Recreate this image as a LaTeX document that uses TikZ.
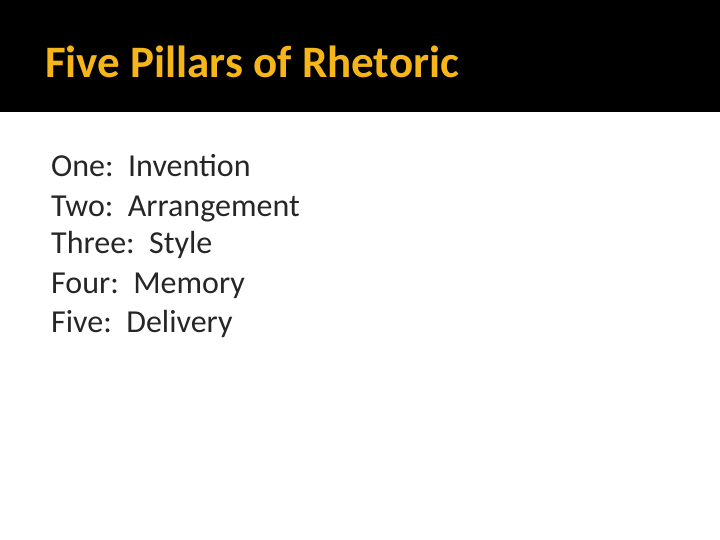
\documentclass[tikz,border=0pt]{standalone}
\usepackage{fontspec}
\setmainfont{Carlito}
\definecolor{titlegold}{RGB}{246,182,24}
\begin{document}
\begin{tikzpicture}[x=1pt,y=-1pt,
  item/.style={anchor=base west, inner sep=0pt, font=\fontsize{32}{36}\selectfont, text=black!85}]
  \useasboundingbox (0,0) rectangle (720,540);
  \fill[black] (0,0) rectangle (720,112);
  \node[anchor=base west, inner sep=0pt, text=titlegold,
    font=\bfseries\fontsize{45}{50}\selectfont] (title) at (45,78) {Five Pillars of Rhetoric};

  \node[item] (one) at (51,177) {One:\ \ Invention};
  \node[item] (two) at (51,216) {Two:\ \ Arrangement};
  \node[item] (three) at (51,254) {Three:\ \ Style};
  \node[item] (four) at (51,293) {Four:\ \ Memory};
  \node[item] (five) at (51,332) {Five:\ \ Delivery};
\end{tikzpicture}
\end{document}
